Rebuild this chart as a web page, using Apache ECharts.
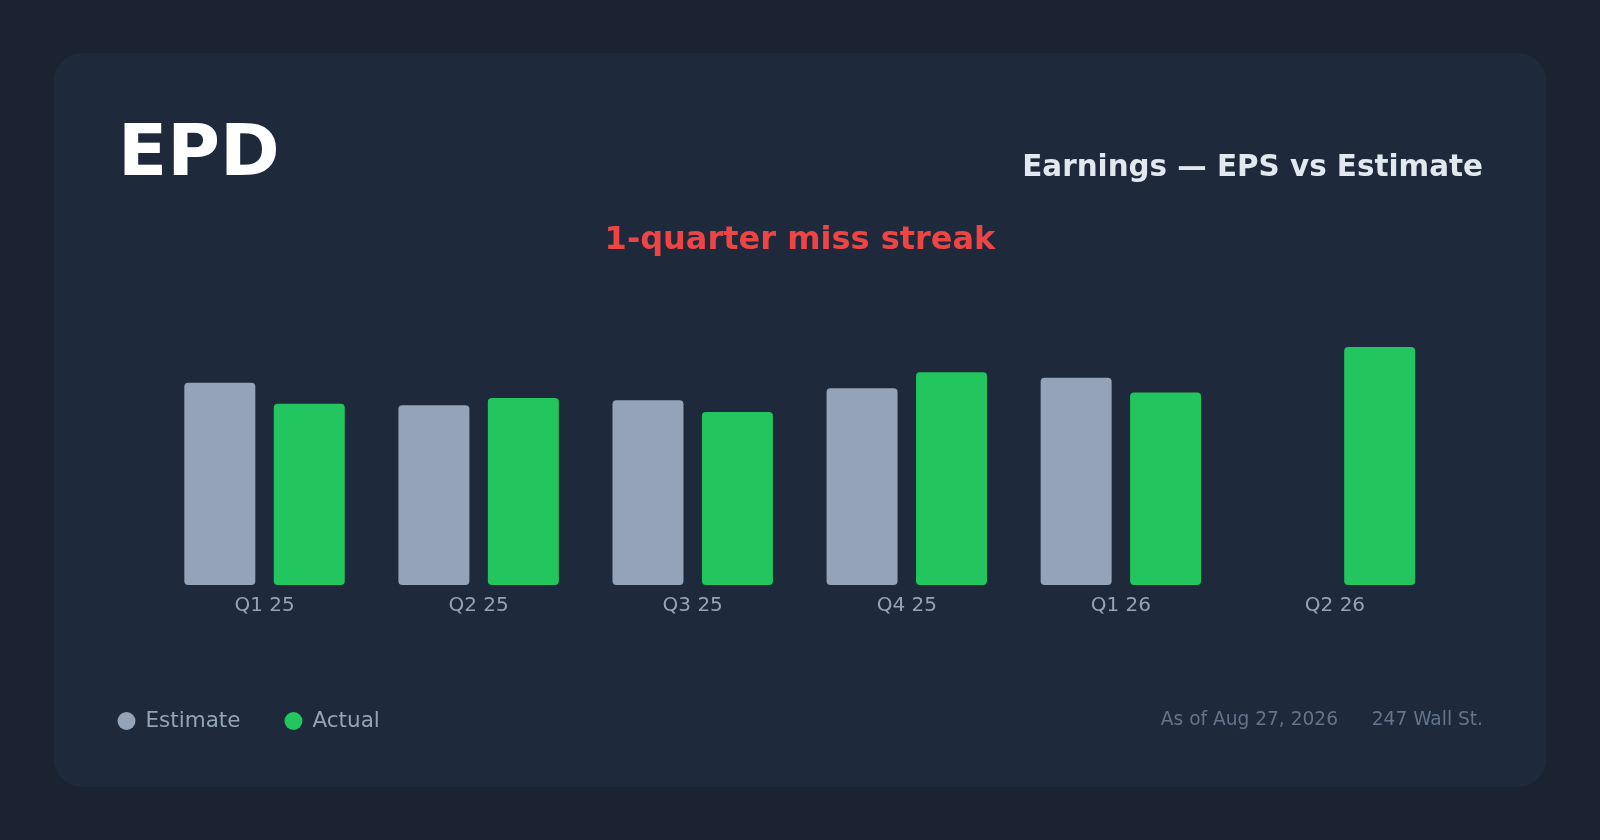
<!DOCTYPE html>
<html>
<head>
<meta charset="utf-8">
<script src="https://cdn.jsdelivr.net/npm/echarts@6/dist/echarts.min.js"></script>
<style>
html,body{margin:0;padding:0;background:#1b2231;}
#chart{width:1600px;height:840px;}
</style>
</head>
<body>
<div id="chart"></div>
<script>
// ---- data ----
var ticker = 'EPD';
var chartTitle = 'Earnings \u2014 EPS vs Estimate';
var streakText = '1-quarter miss streak';
var quarters = ['Q1 25', 'Q2 25', 'Q3 25', 'Q4 25', 'Q1 26', 'Q2 26'];
var estimateEPS = [0.674, 0.599, 0.616, 0.656, 0.691, null];
var actualEPS = [0.604, 0.623, 0.577, 0.709, 0.642, 0.793];
var asOfText = 'As of Aug 27, 2026';
var sourceText = '247 Wall St.';

var FONT = '"DejaVu Sans", sans-serif';
var chart = echarts.init(document.getElementById('chart'), null, {renderer: 'canvas'});
chart.setOption({
  backgroundColor: '#1b2231',
  animation: false,
  grid: {left: 157.5, right: 158, top: 285, bottom: 255, containLabel: false},
  xAxis: {
    type: 'category',
    data: quarters,
    axisLine: {show: false},
    axisTick: {show: false},
    splitLine: {show: false},
    axisLabel: {color: '#94a3b8', fontSize: 20, fontFamily: FONT, margin: 11}
  },
  yAxis: {
    type: 'value', min: 0, max: 1, show: false,
    splitLine: {show: false}
  },
  legend: {
    left: 117.5, top: 710, padding: 0, itemGap: 44,
    icon: 'circle', itemWidth: 18, itemHeight: 18,
    textStyle: {color: '#94a3b8', fontSize: 21.5, fontFamily: FONT, padding: [0, 0, 0, 5]},
    data: ['Estimate', 'Actual']
  },
  series: [
    {
      name: 'Estimate', type: 'bar', data: estimateEPS,
      barWidth: 71, barGap: '26%',
      itemStyle: {color: '#94a3b8', borderRadius: 4}
    },
    {
      name: 'Actual', type: 'bar', data: actualEPS,
      barWidth: 71, barGap: '26%',
      itemStyle: {color: '#22c55e', borderRadius: 4}
    }
  ],
  graphic: [
    {type: 'rect', z: -10, silent: true,
     shape: {x: 54, y: 53, width: 1492, height: 734, r: 28},
     style: {fill: '#1e293b'}},
    {type: 'text', left: 118, top: 120, silent: true,
     style: {text: ticker, fill: '#ffffff', font: 'bold 72px ' + FONT}},
    {type: 'text', right: 117, top: 154, silent: true,
     style: {text: chartTitle, fill: '#e2e8f0', font: 'bold 29.4px ' + FONT}},
    {type: 'text', left: 'center', top: 225, silent: true,
     style: {text: streakText, fill: '#ef4444', font: 'bold 32px ' + FONT}},
    {type: 'text', right: 262, top: 711, silent: true,
     style: {text: asOfText, fill: '#64748b', font: '18.6px ' + FONT}},
    {type: 'text', right: 117, top: 711, silent: true,
     style: {text: sourceText, fill: '#64748b', font: '18.6px ' + FONT}}
  ]
});
</script>
</body>
</html>
